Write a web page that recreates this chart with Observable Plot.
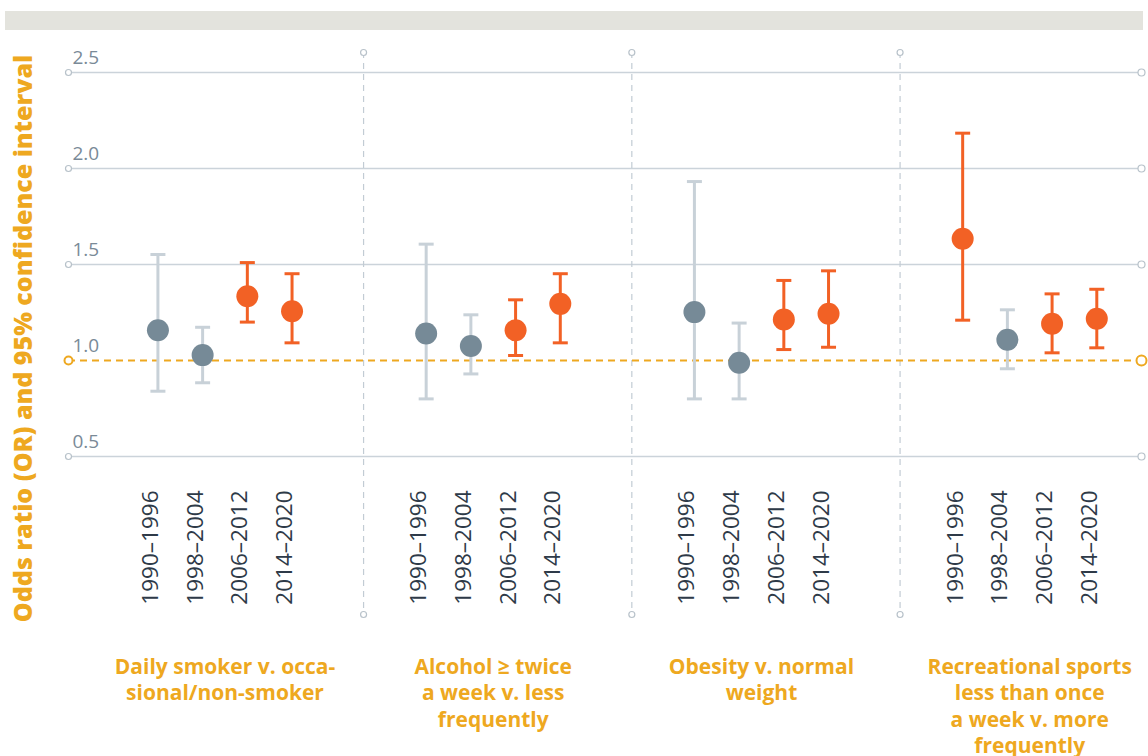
<!DOCTYPE html>
<html><head><meta charset="utf-8">
<script src="https://cdn.jsdelivr.net/npm/d3@7"></script>
<script src="https://cdn.jsdelivr.net/npm/@observablehq/plot@0.6"></script>
<style>
body{margin:0;background:#fff;font-family:"Open Sans",sans-serif;}
#band{margin:11px 5px 0 5px;height:19px;background:#e3e3dd;}
#chart{margin-top:10px;line-height:0}
</style></head><body>
<div id="band"></div>
<div id="chart"></div>
<script>
const groups = [
  "Daily smoker v. occa-\nsional/non-smoker",
  "Alcohol ≥ twice\na week v. less\nfrequently",
  "Obesity v. normal\nweight",
  "Recreational sports\nless than once\na week v. more\nfrequently"
];
const periods = ["1990–1996", "1998–2004", "2006–2012", "2014–2020"];
// odds ratios, one row per group, one column per period
const oddsRatio = [
  [1.158, 1.028, 1.335, 1.257],
  [1.141, 1.076, 1.158, 1.295],
  [1.252, 0.988, 1.214, 1.243],
  [1.634, 1.108, 1.191, 1.217]
];
const ciLow = [
  [0.840, 0.884, 1.200, 1.092],
  [0.800, 0.930, 1.026, 1.092],
  [0.800, 0.800, 1.057, 1.069],
  [1.210, 0.957, 1.040, 1.066]
];
const ciHigh = [
  [1.552, 1.173, 1.510, 1.452],
  [1.606, 1.238, 1.316, 1.452],
  [1.932, 1.195, 1.417, 1.467],
  [2.184, 1.264, 1.347, 1.371]
];
const yTicks = [0.5, 1.0, 1.5, 2.0, 2.5];
const yTitle = "Odds ratio (OR) and 95% confidence interval";

// build table: slot = group * 6 + period (two empty slots between groups)
const rows = [];
groups.forEach((g, gi) => periods.forEach((p, pi) => {
  rows.push({group: g, period: p, slot: gi * 6 + pi,
    or: oddsRatio[gi][pi], lo: ciLow[gi][pi], hi: ciHigh[gi][pi],
    sig: ciLow[gi][pi] > 1});
}));
const groupRows = groups.map((g, gi) => ({label: g, center: gi * 6 + 1.5}));
const separators = groups.slice(1).map((g, gi) => (gi + 1) * 6 - 1.4);

const orange = "#f26125", dotGray = "#768a97", ciGray = "#c8d1d8", gold = "#eea820";
const gridC = "#cbd3da", ringC = "#b8c2ca";
const capSymbol = {draw(ctx, size) { const w = Math.sqrt(size / Math.PI); ctx.moveTo(-w, 0); ctx.lineTo(w, 0); }};
const colorOf = d => d.sig ? orange : ciGray;

const chart = Plot.plot({
  width: 1148, height: 716,
  marginLeft: 68, marginRight: 7, marginTop: 32, marginBottom: 300,
  x: {domain: [-2, 22], axis: null},
  y: {domain: [0.5, 2.5], axis: null},
  color: {type: "identity"},
  style: {fontFamily: "Open Sans, sans-serif", background: "white", overflow: "visible"},
  marks: [
    Plot.ruleY(yTicks.filter(d => d !== 1), {y: d => d, stroke: gridC, strokeWidth: 1.5}),
    Plot.dot(yTicks.filter(d => d !== 1), {y: d => d, frameAnchor: "left", r: 3, fill: "white", stroke: ringC, strokeWidth: 1.2}),
    Plot.dot(yTicks.filter(d => d !== 1), {y: d => d, frameAnchor: "right", r: 3.5, fill: "white", stroke: ringC, strokeWidth: 1.2}),
    Plot.ruleX(separators, {x: d => d, insetTop: -20, insetBottom: -158, stroke: "#c2ccd4", strokeWidth: 1.2, strokeDasharray: "6,5"}),
    Plot.dot(separators, {x: d => d, frameAnchor: "top", dy: -20, r: 3, fill: "white", stroke: ringC, strokeWidth: 1.2}),
    Plot.dot(separators, {x: d => d, frameAnchor: "bottom", dy: 158, r: 3, fill: "white", stroke: ringC, strokeWidth: 1.2}),
    Plot.ruleY([1], {y: d => d, stroke: gold, strokeWidth: 2, strokeDasharray: "7,5"}),
    Plot.dot([1], {y: d => d, frameAnchor: "left", r: 4, fill: "white", stroke: gold, strokeWidth: 2}),
    Plot.dot([1], {y: d => d, frameAnchor: "right", r: 5, fill: "white", stroke: gold, strokeWidth: 2}),
    Plot.ruleX(rows, {x: "slot", y1: "lo", y2: "hi", stroke: colorOf, strokeWidth: 3}),
    Plot.dot(rows, {x: "slot", y: "hi", symbol: capSymbol, r: 7.5, fill: "none", stroke: colorOf, strokeWidth: 3}),
    Plot.dot(rows, {x: "slot", y: "lo", symbol: capSymbol, r: 7.5, fill: "none", stroke: colorOf, strokeWidth: 3}),
    Plot.dot(rows, {x: "slot", y: "or", r: 11, fill: d => d.sig ? orange : dotGray, stroke: null}),
    Plot.text(yTicks, {y: d => d, text: d => d.toFixed(1), frameAnchor: "left", textAnchor: "start", dx: 4, dy: -15,
      fontSize: 19, fill: "#7a8a97", fontWeight: d => d === 1 ? 700 : 400}),
    Plot.text(rows, {x: "slot", text: "period", frameAnchor: "bottom", rotate: -90, textAnchor: "end", dy: 34,
      fontSize: 22.5, fill: "#2e3a48"}),
    Plot.text(groupRows, {x: "center", text: "label", frameAnchor: "bottom", lineAnchor: "top", dy: 199,
      lineHeight: 1.25, fontSize: 21, fontWeight: 700, fill: gold}),
    Plot.text([yTitle], {text: d => d, frameAnchor: "left", textAnchor: "middle", rotate: -90, dx: -45, dy: 74,
      fontSize: 25, fontWeight: 800, fill: gold})
  ]
});
document.getElementById("chart").appendChild(chart);
</script>
</body></html>
